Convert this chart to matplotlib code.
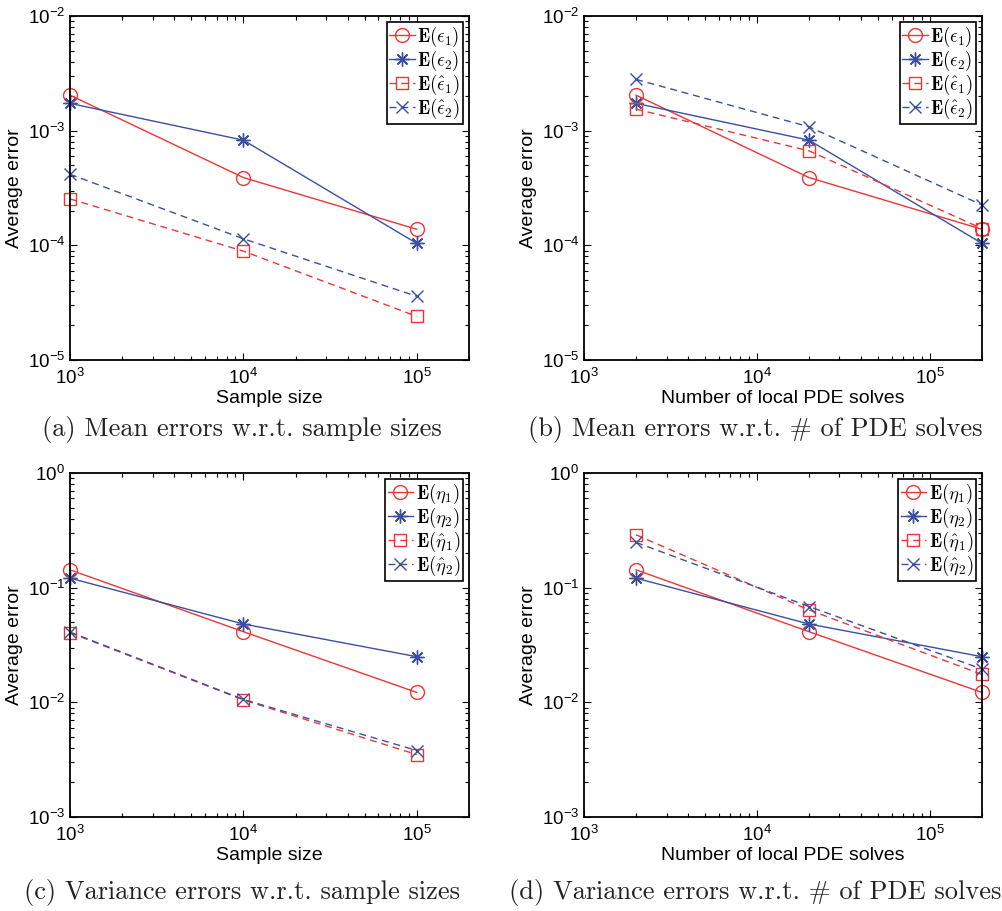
import numpy as np
import matplotlib
matplotlib.use('Agg')
import matplotlib.pyplot as plt
from matplotlib.font_manager import FontProperties
from matplotlib.ticker import LogLocator, NullFormatter

plt.rcParams['font.family'] = ['Liberation Sans', 'DejaVu Sans']
plt.rcParams['mathtext.fontset'] = 'custom'
plt.rcParams['mathtext.rm'] = 'Liberation Sans'
plt.rcParams['mathtext.it'] = 'Liberation Sans:italic'
plt.rcParams['mathtext.bf'] = 'Liberation Sans:bold'

RED = '#ee3535'
BLUE = '#3b4fa0'

# data
sample_sizes = [1e3, 1e4, 1e5]
pde_solves = [2e3, 2e4, 2e5]

mean_eps1 = [2.04e-3, 3.9e-4, 1.38e-4]
mean_eps2 = [1.73e-3, 8.26e-4, 1.04e-4]
mean_hat_eps1_a = [2.54e-4, 8.9e-5, 2.4e-5]
mean_hat_eps2_a = [4.17e-4, 1.14e-4, 3.59e-5]
mean_hat_eps1_b = [1.54e-3, 6.67e-4, 1.4e-4]
mean_hat_eps2_b = [2.8e-3, 1.08e-3, 2.25e-4]

var_eta1 = [0.143, 0.0413, 0.0122]
var_eta2 = [0.121, 0.0482, 0.025]
var_hat_eta1_c = [0.0405, 0.0105, 0.0035]
var_hat_eta2_c = [0.041, 0.0106, 0.0038]
var_hat_eta1_d = [0.289, 0.064, 0.0175]
var_hat_eta2_d = [0.248, 0.0685, 0.0195]

mean_labels = [r'$\mathbf{E}(\epsilon_1)$', r'$\mathbf{E}(\epsilon_2)$',
               r'$\mathbf{E}(\hat{\epsilon}_1)$', r'$\mathbf{E}(\hat{\epsilon}_2)$']
var_labels = [r'$\mathbf{E}(\eta_1)$', r'$\mathbf{E}(\eta_2)$',
              r'$\mathbf{E}(\hat{\eta}_1)$', r'$\mathbf{E}(\hat{\eta}_2)$']

captions = ['(a) Mean errors w.r.t. sample sizes',
            '(b) Mean errors w.r.t. # of PDE solves',
            '(c) Variance errors w.r.t. sample sizes',
            '(d) Variance errors w.r.t. # of PDE solves']

fig = plt.figure(figsize=(10.03, 9.11), dpi=100)

W, H = 1003.0, 911.0


def make_axes(left, right, top, bottom):
    return fig.add_axes([left / W, 1 - bottom / H, (right - left) / W, (bottom - top) / H])


def draw_panel(ax, x, s1, s2, s3, s4, labels, ylim, xlabel):
    ax.plot(x, s1, '-', color=RED, lw=1.0, marker='o', ms=10, mfc='none', mec=RED, mew=1.0,
            clip_on=False, label=labels[0])
    ax.plot(x, s2, '-', color=BLUE, lw=1.0, marker=(8, 2, 0), ms=10, mec=BLUE, mew=1.0,
            clip_on=False, label=labels[1])
    ax.plot(x, s3, '--', color=RED, lw=1.0, marker='s', ms=8, mfc='none', mec=RED, mew=1.0,
            dashes=(5, 3.5), clip_on=False, label=labels[2])
    ax.plot(x, s4, '--', color=BLUE, lw=1.0, marker='x', ms=8, mec=BLUE, mew=1.0,
            dashes=(5, 3.5), clip_on=False, label=labels[3])
    ax.set_xscale('log')
    ax.set_yscale('log')
    ax.set_xlim(1e3, 2e5)
    ax.set_ylim(*ylim)
    ax.xaxis.set_major_locator(LogLocator(base=10, numticks=10))
    ax.yaxis.set_major_locator(LogLocator(base=10, numticks=10))
    ax.xaxis.set_minor_locator(LogLocator(base=10, subs=np.arange(2, 10), numticks=10))
    ax.yaxis.set_minor_locator(LogLocator(base=10, subs=np.arange(2, 10), numticks=10))
    ax.xaxis.set_minor_formatter(NullFormatter())
    ax.yaxis.set_minor_formatter(NullFormatter())
    ax.tick_params(which='both', direction='in', top=True, right=True, labelsize=13.5, width=0.8)
    ax.tick_params(which='major', length=5)
    ax.tick_params(which='minor', length=3)
    ax.tick_params(axis='x', pad=6)
    for sp in ax.spines.values():
        sp.set_linewidth(1.3)
    ax.set_xlabel(xlabel, fontsize=14, labelpad=1)
    ax.set_ylabel('Average error', fontsize=14, labelpad=3)
    leg = ax.legend(loc='upper right', prop=FontProperties(size=13.5, math_fontfamily='cm'),
                    fancybox=False, framealpha=1, edgecolor='black', borderpad=0.15,
                    handlelength=1.35, handletextpad=0.15, labelspacing=0.0,
                    borderaxespad=0.3, numpoints=1)
    leg.get_frame().set_linewidth(1.2)


ax_a = make_axes(70, 469, 16, 360)
ax_b = make_axes(584, 982, 16, 360)
ax_c = make_axes(70, 469, 473, 817)
ax_d = make_axes(584, 982, 473, 817)

draw_panel(ax_a, sample_sizes, mean_eps1, mean_eps2, mean_hat_eps1_a, mean_hat_eps2_a,
           mean_labels, (1e-5, 1e-2), 'Sample size')
draw_panel(ax_b, pde_solves, mean_eps1, mean_eps2, mean_hat_eps1_b, mean_hat_eps2_b,
           mean_labels, (1e-5, 1e-2), 'Number of local PDE solves')
draw_panel(ax_c, sample_sizes, var_eta1, var_eta2, var_hat_eta1_c, var_hat_eta2_c,
           var_labels, (1e-3, 1e0), 'Sample size')
draw_panel(ax_d, pde_solves, var_eta1, var_eta2, var_hat_eta1_d, var_hat_eta2_d,
           var_labels, (1e-3, 1e0), 'Number of local PDE solves')

cap_pos = [(242, 430), (755, 430), (242, 893), (755, 893)]
for (cx, cy), txt in zip(cap_pos, captions):
    fig.text(cx / W, 1 - cy / H, txt, ha='center', va='center', fontsize=19,
             family=['cmr10', 'DejaVu Serif'], color='#222222')

fig.savefig('out.png', dpi=100)
